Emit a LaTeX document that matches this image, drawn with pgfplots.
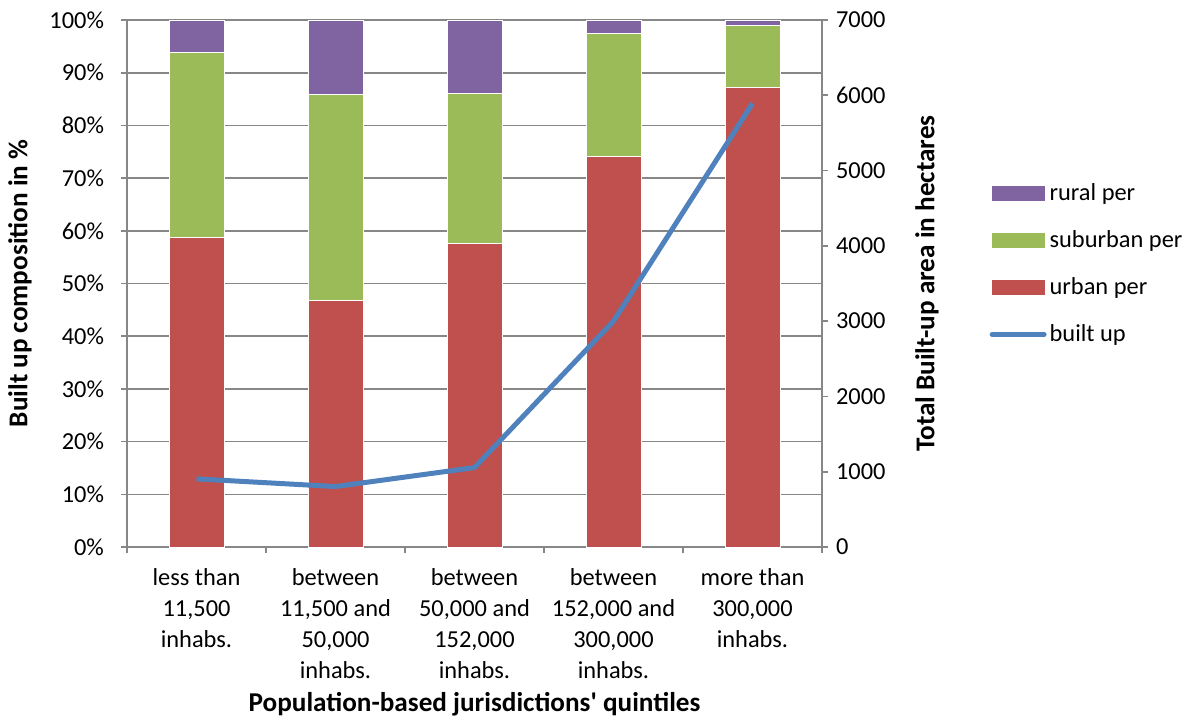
\documentclass[border=0pt]{standalone}
\usepackage{fontspec}
\setmainfont{Carlito}
\usepackage{pgfplots}
\pgfplotsset{compat=1.18}
\definecolor{ruralc}{HTML}{8064A2}
\definecolor{suburbc}{HTML}{9BBB59}
\definecolor{urbanc}{HTML}{C0504D}
\definecolor{lineblue}{HTML}{4F81BD}
\definecolor{gridc}{HTML}{878787}
\newcommand{\cf}{\fontsize{12.2}{15.5}\selectfont}
\newcommand{\bfl}{\fontsize{13.6}{16}\selectfont\bfseries}
\begin{document}
\begin{tikzpicture}
\path (0,0) rectangle (601.5pt,360pt);
\begin{axis}[
  at={(63.5pt,86.5pt)}, anchor=south west,
  scale only axis, width=347.5pt, height=263.5pt,
  ybar stacked, bar width=27.5pt,
  xmin=-0.5, xmax=4.5, ymin=0, ymax=100,
  axis y line*=left, axis x line*=bottom,
  axis line style={gridc, line width=0.8pt},
  xtick={0,1,2,3,4},
  xticklabels={{less than\\11,500\\inhabs.},{between\\11,500 and\\50,000\\inhabs.},{between\\50,000 and\\152,000\\inhabs.},{between\\152,000 and\\300,000\\inhabs.},{more than\\300,000\\inhabs.}},
  minor xtick={-0.5,0.5,1.5,2.5,3.5,4.5},
  x tick style={draw=none},
  minor x tick style={gridc, line width=0.8pt, draw=gridc},
  tick align=outside,
  major tick length=3pt, minor tick length=3pt,
  ytick={0,10,...,100},
  yticklabel={\pgfmathprintnumber{\tick}\%},
  y tick style={gridc, line width=0.8pt},
  ymajorgrids, grid style={gridc, line width=0.8pt},
  /pgf/number format/assume math mode=true,
  ticklabel style={font=\cf, text=black},
  xticklabel style={align=center, yshift=-4pt},
  yticklabel style={xshift=-5pt},
  xlabel={Population-based jurisdictions\textquotesingle{} quintiles},
  xlabel style={font=\bfl, at={(axis description cs:0.5,-0.298)}, anchor=center},
  ylabel={Built up composition in \%},
  ylabel style={font=\bfl, at={(axis description cs:-0.154,0.5)}, anchor=center},
]
\addplot[fill=urbanc, draw=white, line width=0.3pt] coordinates {(0,58.8) (1,46.8) (2,57.6) (3,74.1) (4,87.2)};
\addplot[fill=suburbc, draw=white, line width=0.3pt] coordinates {(0,35.1) (1,39.1) (2,28.5) (3,23.4) (4,11.7)};
\addplot[fill=ruralc, draw=white, line width=0.3pt] coordinates {(0,6.1) (1,14.1) (2,13.9) (3,2.5) (4,1.1)};
\end{axis}
\begin{axis}[
  at={(63.5pt,86.5pt)}, anchor=south west,
  scale only axis, width=347.5pt, height=263.5pt,
  xmin=-0.5, xmax=4.5, ymin=0, ymax=7000,
  axis x line=none, axis y line*=right,
  axis line style={gridc, line width=0.8pt},
  ytick={0,1000,...,7000},
  scaled y ticks=false,
  /pgf/number format/1000 sep={},
  /pgf/number format/assume math mode=true,
  tick align=outside, major tick length=3pt,
  y tick style={gridc, line width=0.8pt},
  ticklabel style={font=\cf, text=black},
  yticklabel style={xshift=0.5pt},
  ylabel={Total Built-up area in hectares},
  ylabel style={font=\bfl, at={(axis description cs:1.151,0.5)}, anchor=center},
  legend style={draw=none, fill=none, at={(axis description cs:1.232,0.537)}, anchor=west, font=\cf, row sep=9.5pt, cells={anchor=west}, nodes={inner xsep=1.5pt}},
  legend cell align=left,
]
\addlegendimage{legend image code/.code={\fill[ruralc] (0pt,-3.5pt) rectangle (26pt,3.5pt);}}
\addlegendentry{rural per}
\addlegendimage{legend image code/.code={\fill[suburbc] (0pt,-3.5pt) rectangle (26pt,3.5pt);}}
\addlegendentry{suburban per}
\addlegendimage{legend image code/.code={\fill[urbanc] (0pt,-3.5pt) rectangle (26pt,3.5pt);}}
\addlegendentry{urban per}
\addplot[lineblue, line width=2.5pt, line join=round, mark=none,
  legend image code/.code={\draw[lineblue, line width=2.5pt, line cap=round] (0pt,0pt)--(26pt,0pt);}]
  coordinates {(0,905) (1,803) (2,1055) (3,3000) (4,5892)};
\addlegendentry{built up}
\end{axis}
\end{tikzpicture}
\end{document}
